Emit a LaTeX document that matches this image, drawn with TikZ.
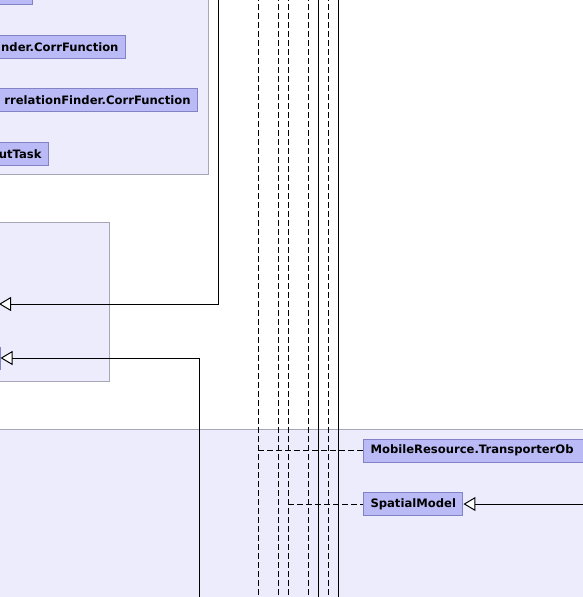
\documentclass[tikz,border=0pt]{standalone}
\usepackage{fontspec}
\setmainfont{DejaVu Sans}
\usetikzlibrary{arrows.meta}
\definecolor{pkgfill}{RGB}{237,236,252}
\definecolor{pkgline}{RGB}{166,166,182}
\definecolor{clsfill}{RGB}{186,186,246}
\definecolor{clsline}{RGB}{130,130,196}
\tikzset{
	pkg/.style={draw=pkgline, fill=pkgfill, line width=1pt},
	cls/.style={draw=clsline, fill=clsfill, line width=1pt, font=\bfseries\fontsize{11.6}{13}\selectfont,
		inner xsep=7pt, inner ysep=0pt, minimum height=23pt, anchor=east},
	inh/.style={-{Triangle[open, fill=white, length=12pt, width=14pt]}},
	dep/.style={dash pattern=on 6pt off 3pt},
	solidline/.style={solid}
}

\begin{document}
\begin{tikzpicture}[x=1pt, y=-1pt, line width=1pt]
	\useasboundingbox (0,0) rectangle (583,597);
	\clip (0,0) rectangle (583,597);

	%packages
	\draw[pkg] (-10,-10) rectangle (208,174);
	\draw[pkg] (-10,222) rectangle (109,381);
	\draw[pkg] (-10,429) rectangle (600,610);

	%classes
	\node[cls, minimum width=60pt, anchor=south east] (topcls) at (33,5) {};
	\node[cls, text width=160pt, align=right] (corrA) at (126,47) {nder.CorrFunction};
	\node[cls, text width=220pt, align=right] (corrB) at (198,100) {rrelationFinder.CorrFunction};
	\node[cls, text width=80pt, align=right] (outTask) at (49,154) {utTask};
	\node[cls, minimum width=40pt, minimum height=22pt] (leftcls) at (0.5,358) {};
	\node[cls, anchor=west, text width=260pt, align=left] (mobile) at (363,450.5) {MobileResource.TransporterOb};
	\node[cls, anchor=west] (spatial) at (363,504) {SpatialModel};

	%vertical lines through the picture
	\foreach \x/\s [count=\i] in {258/dep, 278/dep, 288/dep, 308/dep, 318/solidline, 328/dep, 338/solidline} {
		\coordinate (vt\i) at (\x,-5);
		\coordinate (vb\i) at (\x,605);
		\draw[\s] (vt\i) -- (vb\i);
	}

	%generalisations
	\coordinate (srcA) at (218,-5);
	\coordinate (tgtA) at (-1,304);
	\draw[inh] (srcA) |- (tgtA);
	\coordinate (srcB) at (199,605);
	\draw[inh] (srcB) |- (leftcls.east);
	\coordinate (srcS) at (600,504);
	\draw[inh] (srcS) -- (spatial.east);

	%dependencies
	\coordinate (jm) at (258,450.5);
	\draw[dep] (jm) -- (mobile.west);
	\coordinate (js) at (288,504);
	\draw[dep] (js) -- (spatial.west);

\end{tikzpicture}
\end{document}
